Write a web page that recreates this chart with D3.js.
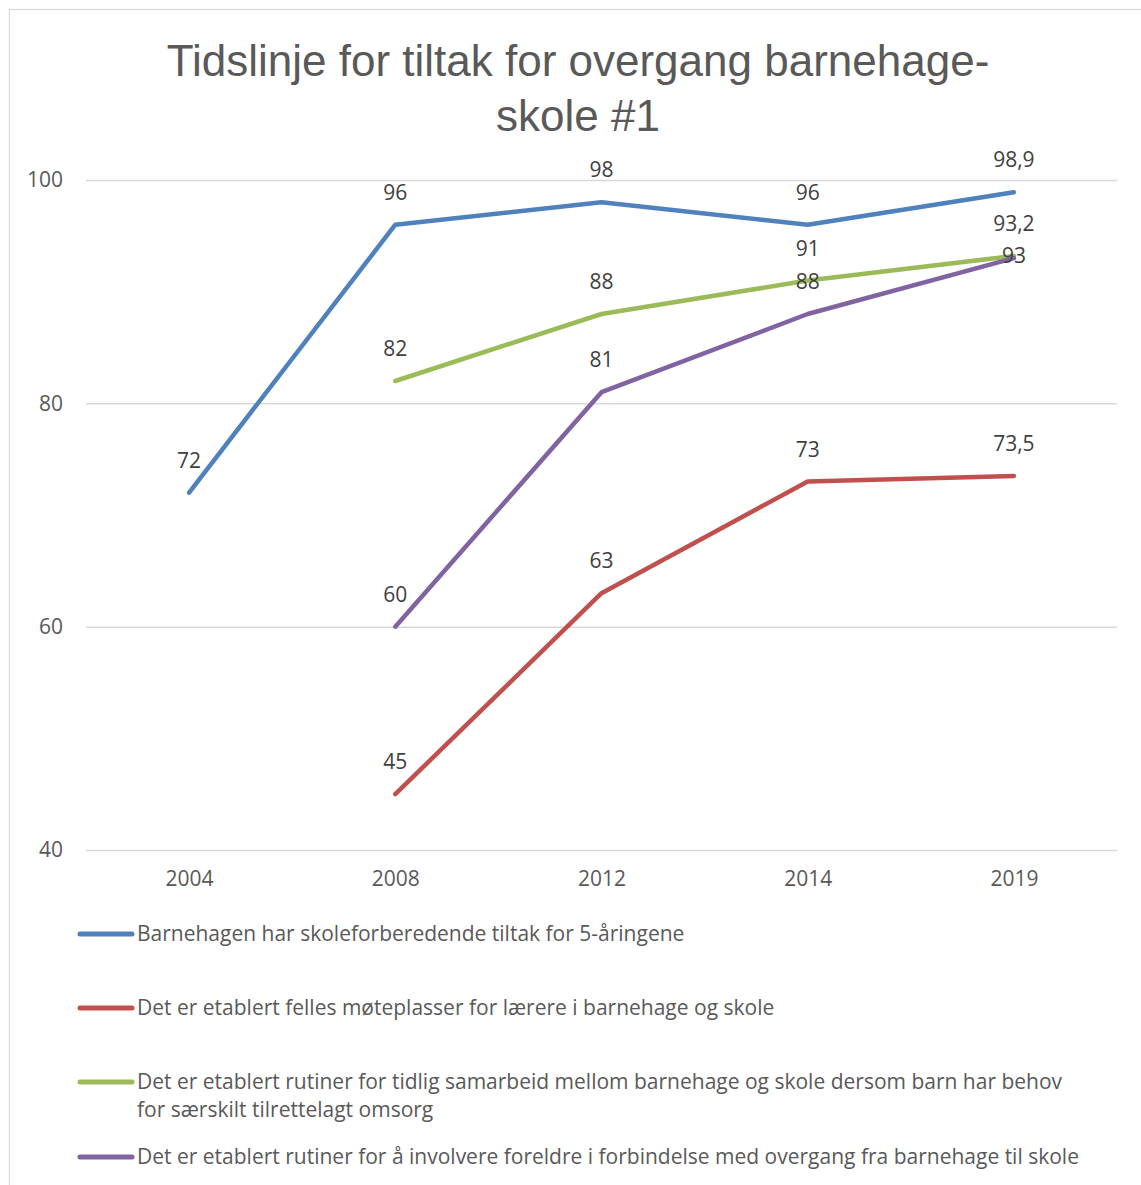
<!DOCTYPE html>
<html>
<head>
<meta charset="utf-8">
<script src="https://cdn.jsdelivr.net/npm/d3@7"></script>
<style>
  html, body { margin: 0; padding: 0; background: #fff; }
  svg { display: block; }
</style>
</head>
<body>
<svg id="chart" width="1141" height="1185"></svg>
<script>
// Survey years along the x axis
const years = ["2004", "2008", "2012", "2014", "2019"];

// Share (%) of kindergartens/schools reporting each transition measure
const seriesNames = [
  "Barnehagen har skoleforberedende tiltak for 5-åringene",
  "Det er etablert felles møteplasser for lærere i barnehage og skole",
  "Det er etablert rutiner for tidlig samarbeid mellom barnehage og skole dersom barn har behov for særskilt tilrettelagt omsorg",
  "Det er etablert rutiner for å involvere foreldre i forbindelse med overgang fra barnehage til skole"
];
const skoleforberedende = [72, 96, 98, 96, 98.9];
const motePlasser      = [null, 45, 63, 73, 73.5];
const tidligSamarbeid  = [null, 82, 88, 91, 93.2];
const involvereForeldre = [null, 60, 81, 88, 93];

const yTicks = [40, 60, 80, 100];
const titleLines = ["Tidslinje for tiltak for overgang barnehage-", "skole #1"];

const colors = ["#4f81bd", "#c0504d", "#9bbb59", "#8064a2"];
const seriesValues = [skoleforberedende, motePlasser, tidligSamarbeid, involvereForeldre];

const svg = d3.select("#chart");
const font = "'Open Sans', Lato, sans-serif";
const fontSize = 21;

// Outer chart frame
svg.append("rect")
  .attr("x", 9.5).attr("y", 9.5)
  .attr("width", 1140).attr("height", 1190)
  .attr("fill", "#fff").attr("stroke", "#d9d9d9").attr("stroke-width", 1.2);

// Title
svg.append("g").selectAll("text").data(titleLines).join("text")
  .attr("x", 578).attr("y", (d, i) => 76 + i * 55)
  .attr("text-anchor", "middle")
  .attr("font-family", "'Liberation Sans Narrow', 'Liberation Sans', sans-serif")
  .attr("font-size", 44)
  .attr("fill", "#595959")
  .text(d => d);

// Scales
const x = d3.scalePoint().domain(years).range([86, 1117]).padding(0.5);
const y = d3.scaleLinear().domain([40, 100]).range([850, 180]);

// Horizontal gridlines + y tick labels
const yAxis = d3.axisLeft(y).tickValues(yTicks).tickSize(-(1117 - 86)).tickPadding(23).tickFormat(d3.format("d"));
const gy = svg.append("g").attr("transform", "translate(86,0)").call(yAxis);
gy.select(".domain").remove();
gy.selectAll(".tick line").attr("stroke", "#d9d9d9").attr("stroke-width", 1.5);
gy.selectAll(".tick text").attr("font-family", font).attr("font-size", fontSize).attr("fill", "#595959");

// x tick labels
const xAxis = d3.axisBottom(x).tickSize(0).tickPadding(21);
const gx = svg.append("g").attr("transform", "translate(0,850)").call(xAxis);
gx.select(".domain").remove();
gx.selectAll(".tick text").attr("font-family", font).attr("font-size", fontSize).attr("fill", "#595959");

// Series lines
const line = d3.line()
  .defined(d => d.v != null)
  .x(d => x(d.year))
  .y(d => y(d.v));

const series = seriesValues.map((vals, i) => ({
  name: seriesNames[i],
  color: colors[i],
  points: vals.map((v, j) => ({ year: years[j], v }))
}));

svg.append("g").selectAll("path").data(series).join("path")
  .attr("d", s => line(s.points))
  .attr("fill", "none")
  .attr("stroke", s => s.color)
  .attr("stroke-width", 4.5)
  .attr("stroke-linecap", "round")
  .attr("stroke-linejoin", "round");

// Value labels above each point; the last purple label sits on its point to avoid the green one
const fmt = v => String(v).replace(".", ",");
const labels = [];
series.forEach((s, si) => s.points.forEach((p, pi) => {
  if (p.v == null) return;
  const onPoint = si === 3 && pi === years.length - 1;
  labels.push({ p, dy: onPoint ? 5 : -25 });
}));
svg.append("g").selectAll("text").data(labels).join("text")
  .attr("x", d => x(d.p.year))
  .attr("y", d => y(d.p.v) + d.dy)
  .attr("text-anchor", "middle")
  .attr("font-family", font).attr("font-size", fontSize)
  .attr("fill", "#404040")
  .text(d => fmt(d.p.v));

// Legend
const legendRows = [
  { lines: [seriesNames[0]], y: 934 },
  { lines: [seriesNames[1]], y: 1008 },
  { lines: ["Det er etablert rutiner for tidlig samarbeid mellom barnehage og skole dersom barn har behov", "for særskilt tilrettelagt omsorg"], y: 1082 },
  { lines: [seriesNames[3]], y: 1157 }
];
const lg = svg.append("g").selectAll("g").data(legendRows).join("g")
  .attr("transform", d => `translate(0,${d.y})`);
lg.append("line")
  .attr("x1", 80).attr("x2", 132).attr("y1", 0).attr("y2", 0)
  .attr("stroke", (d, i) => colors[i]).attr("stroke-width", 5).attr("stroke-linecap", "round");
lg.each(function (d) {
  d3.select(this).selectAll("text").data(d.lines).join("text")
    .attr("x", 137).attr("y", (t, k) => 7 + k * 28)
    .attr("font-family", font).attr("font-size", fontSize)
    .attr("fill", "#595959")
    .text(t => t);
});
</script>
</body>
</html>
